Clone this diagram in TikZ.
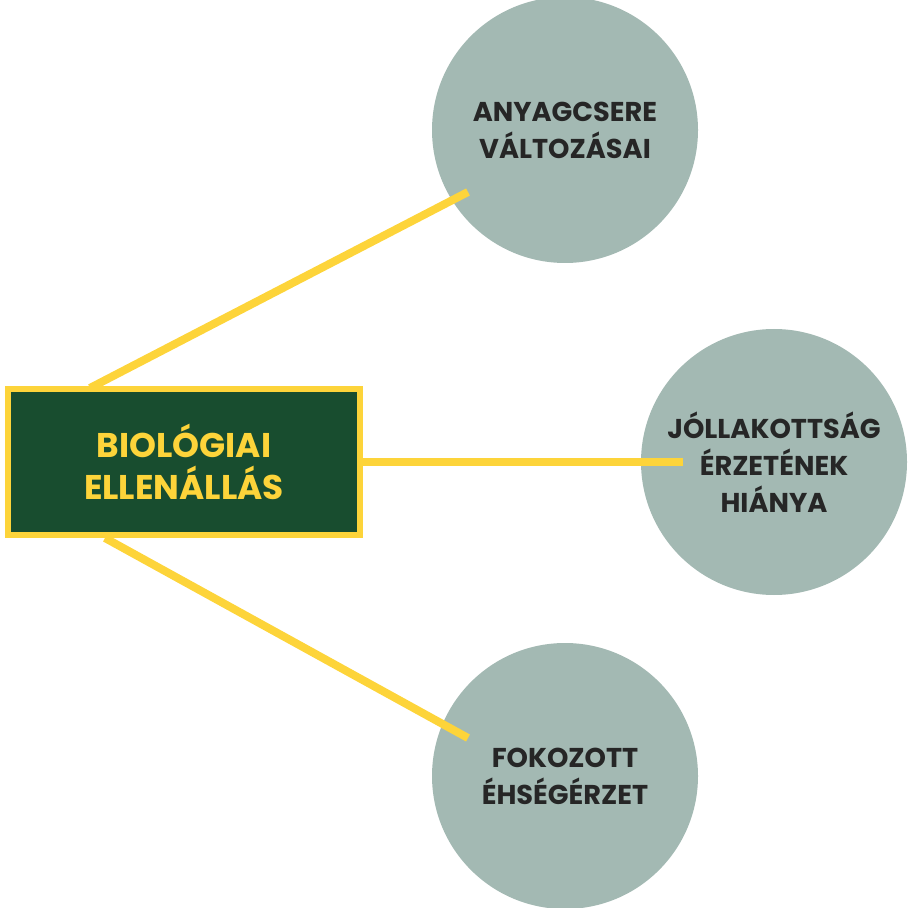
\documentclass[tikz,border=0pt]{standalone}
\usepackage{fontspec}
\setmainfont{Poppins}
\usetikzlibrary{positioning}
\definecolor{sage}{HTML}{A3B9B3}
\definecolor{forest}{HTML}{184D2F}
\definecolor{sun}{HTML}{FDD43A}
\begin{document}
\begin{tikzpicture}[x=0.02cm,y=-0.02cm,
                    semithick]
  \tikzstyle{bubble}=[circle,fill=sage,minimum size=266*0.02cm,inner sep=0pt,
    align=center,font=\bfseries\fontsize{15.5}{21}\selectfont,text=black!85]
  \tikzstyle{link}=[sun,line width=8*0.02cm]

  \useasboundingbox (0,0) rectangle (909,908);

  \node[bubble] (meta) at (565,130) {ANYAGCSERE\\VÁLTOZÁSAI};
  \node[bubble] (full) at (774,462) {JÓLLAKOTTSÁG\\ÉRZETÉNEK\\HIÁNYA};
  \node[bubble] (hung) at (565,776) {FOKOZOTT\\ÉHSÉGÉRZET};

  \coordinate (m1) at (90,388);  \coordinate (m2) at (468,192);
  \coordinate (f1) at (360,462); \coordinate (f2) at (683,462);
  \coordinate (h1) at (105,538); \coordinate (h2) at (468,738);
  \draw[link] (m1) -- (m2);
  \draw[link] (f1) -- (f2);
  \draw[link] (h1) -- (h2);

  \node[draw=sun,fill=forest,line width=6*0.02cm,minimum width=352*0.02cm,
        minimum height=145*0.02cm,align=center,text=sun,
        font=\bfseries\fontsize{19.5}{24}\selectfont] (bio) at (184,462)
        {BIOLÓGIAI\\ELLENÁLLÁS};
\end{tikzpicture}
\end{document}
